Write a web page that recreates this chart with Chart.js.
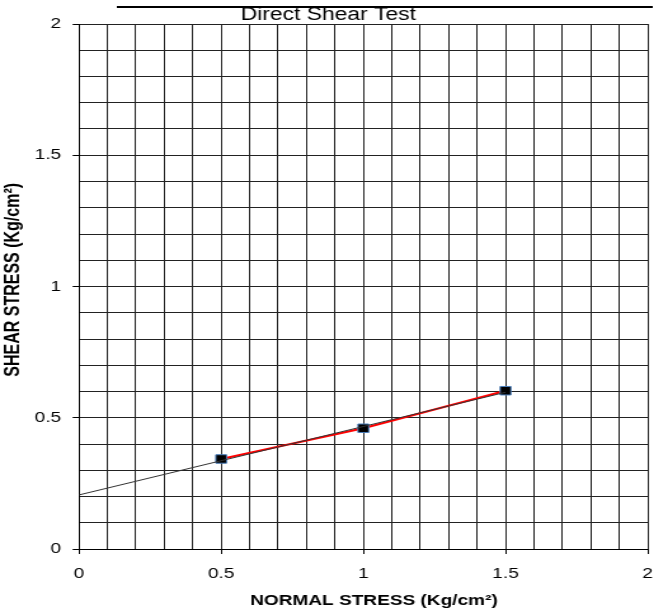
<!DOCTYPE html>
<html>
<head>
<meta charset="utf-8">
<script src="https://cdn.jsdelivr.net/npm/chart.js@4/dist/chart.umd.min.js"></script>
<style>
  html, body { margin: 0; padding: 0; background: #fff; overflow: hidden; }
  #wrap { width: 517px; height: 610px; transform: scaleX(1.27); transform-origin: 0 0; }
</style>
</head>
<body>
<div id="wrap"><canvas id="c" width="517" height="610"></canvas></div>
<script>
// Data
const normalStress = [0.5, 1.0, 1.5];
const shearStress = [0.343, 0.46, 0.603];
const trendX = [0, 1.5];
const trendY = [0.206, 0.597];
const majorTicks = [0, 0.5, 1, 1.5, 2];

const isMajor = v => majorTicks.some(m => Math.abs(m - v) < 1e-6);
const tickCol = ctx => (ctx.tick && isMajor(ctx.tick.value)) ? '#000' : 'rgba(0,0,0,0)';

const topLine = {
  id: 'topLine',
  afterDraw(chart) {
    const c = chart.ctx;
    c.save();
    c.strokeStyle = '#000';
    c.lineWidth = 2;
    c.beginPath();
    c.moveTo(92, 7);
    c.lineTo(514, 7);
    c.stroke();
    c.restore();
  }
};

const FONT = "'Liberation Sans', Arial, sans-serif";

new Chart(document.getElementById('c'), {
  type: 'scatter',
  data: {
    datasets: [
      {
        label: 'Shear stress',
        data: normalStress.map((x, i) => ({ x, y: shearStress[i] })),
        showLine: true,
        borderColor: '#ff0000',
        borderWidth: 2,
        pointStyle: 'rect',
        pointRadius: 6,
        pointBackgroundColor: '#000',
        pointBorderColor: '#4a7ebb',
        pointBorderWidth: 1,
        order: 2
      },
      {
        label: 'Trend',
        data: trendX.map((x, i) => ({ x, y: trendY[i] })),
        showLine: true,
        borderColor: '#333',
        borderWidth: 1,
        pointRadius: 0,
        order: 1
      }
    ]
  },
  options: {
    responsive: false,
    animation: false,
    devicePixelRatio: 1,
    layout: { padding: 0 },
    plugins: {
      legend: { display: false },
      tooltip: { enabled: false },
      title: {
        display: true,
        text: 'Direct Shear Test',
        color: '#000',
        font: { family: FONT, size: 18, weight: 'normal', lineHeight: 1 },
        padding: { top: 6, bottom: 0 }
      }
    },
    scales: {
      x: {
        type: 'linear',
        min: 0, max: 2,
        ticks: {
          stepSize: 0.1,
          autoSkip: false,
          maxRotation: 0,
          color: '#000',
          font: { family: FONT, size: 15 },
          padding: 11,
          callback: v => isMajor(v) ? String(Math.round(v * 2) / 2) : ''
        },
        grid: { color: '#222', lineWidth: 1, tickLength: 5, tickColor: tickCol },
        border: { color: '#000', width: 1 },
        title: {
          display: true,
          text: '    NORMAL STRESS (Kg/cm²)',
          color: '#000',
          font: { family: FONT, size: 15, weight: 'bold', lineHeight: 1.2 },
          padding: { top: 0, bottom: 0 }
        },
        afterFit: s => { s.height = 61; s.paddingLeft = 0; s.paddingRight = 0; }
      },
      y: {
        type: 'linear',
        min: 0, max: 2,
        ticks: {
          stepSize: 0.1,
          autoSkip: false,
          color: '#000',
          font: { family: FONT, size: 15 },
          padding: 9,
          callback: v => isMajor(v) ? String(Math.round(v * 2) / 2) : ''
        },
        grid: { color: '#222', lineWidth: 1, tickLength: 5, tickColor: tickCol },
        border: { color: '#000', width: 1 },
        title: {
          display: true,
          text: '   SHEAR STRESS (Kg/cm²)',
          color: '#000',
          font: { family: FONT, size: 16, weight: 'bold', lineHeight: 1.2 },
          padding: { top: 1, bottom: 0 }
        },
        afterFit: s => { s.width = 62.2; }
      }
    }
  },
  plugins: [topLine]
});
</script>
</body>
</html>
